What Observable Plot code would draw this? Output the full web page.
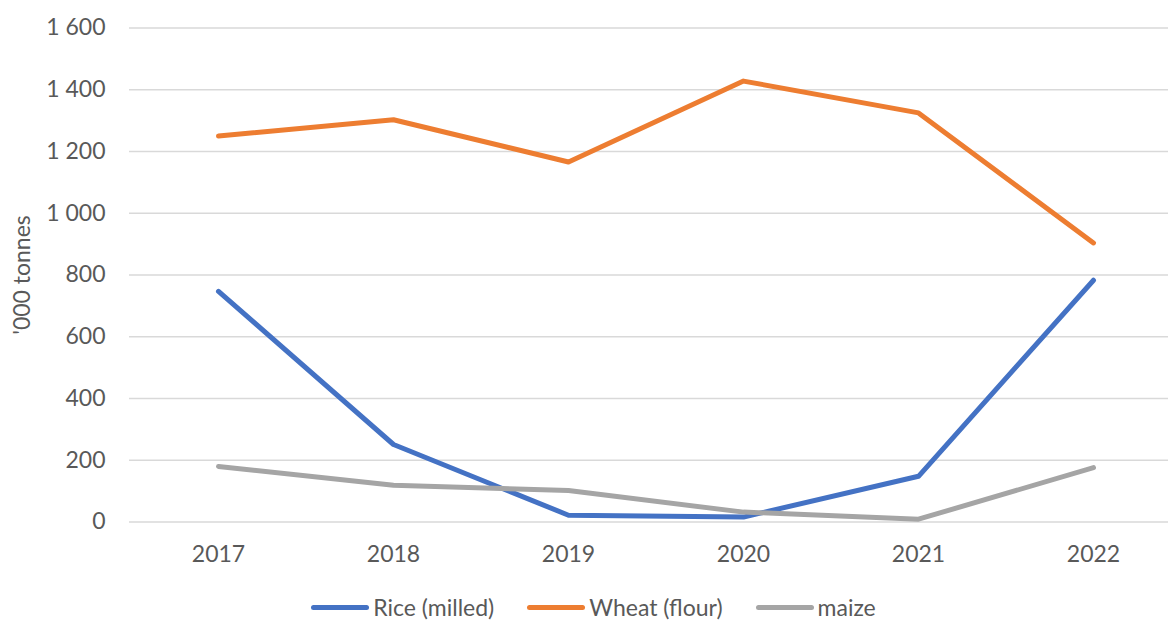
<!DOCTYPE html>
<html>
<head>
<meta charset="utf-8">
<script src="https://cdn.jsdelivr.net/npm/d3@7"></script>
<script src="https://cdn.jsdelivr.net/npm/@observablehq/plot@0.6"></script>
<style>
  html, body { margin: 0; padding: 0; background: #fff; }
  body { width: 1168px; height: 621px; overflow: hidden; font-family: Lato, "Open Sans", sans-serif; color: #595959; }
  #legend { height: 27px; display: flex; justify-content: center; align-items: center; gap: 33px; padding-left: 19px; font-size: 23px; line-height: 27px; }
  .item { display: flex; align-items: center; }
  .sw { width: 58px; height: 5px; border-radius: 3px; margin-right: 4px; }
</style>
</head>
<body>
<div id="chart"></div>
<div id="legend"></div>
<script>
const years = ["2017", "2018", "2019", "2020", "2021", "2022"];
const rice = [747, 251, 22, 16, 148, 783];
const wheat = [1250, 1303, 1166, 1428, 1325, 904];
const maize = [180, 119, 102, 32, 9, 176];
const seriesNames = ["Rice (milled)", "Wheat (flour)", "maize"];
const seriesColors = ["#4472C4", "#ED7D31", "#A5A5A5"];
const yTicks = [0, 200, 400, 600, 800, 1000, 1200, 1400, 1600];
const yLabel = "'000 tonnes";

const seriesValues = [rice, wheat, maize];
const rows = [];
seriesNames.forEach((name, s) => {
  years.forEach((yr, i) => rows.push({series: name, year: yr, value: seriesValues[s][i]}));
});

const fmt = d => d3.format(",")(d).replace(/,/g, " ");

const chart = Plot.plot({
  width: 1168,
  height: 594,
  marginLeft: 129,
  marginRight: 0,
  marginTop: 27,
  marginBottom: 72,
  style: {fontFamily: "Lato, 'Open Sans', sans-serif", fontSize: "23px", color: "#595959", background: "#fff"},
  x: {type: "point", domain: years, range: [217.5, 1094], padding: 0},
  y: {domain: [0, 1600], range: [521.5, 27.5]},
  color: {domain: seriesNames, range: seriesColors},
  marks: [
    Plot.ruleY(yTicks, {stroke: "#D9D9D9", strokeWidth: 1.5}),
    Plot.axisY({ticks: yTicks, tickFormat: fmt, tickSize: 0, tickPadding: 24, label: null, fill: "#595959"}),
    Plot.axisX({tickSize: 0, tickPadding: 23, label: null, fill: "#595959"}),
    Plot.line(rows, {x: "year", y: "value", z: "series", stroke: "series", strokeWidth: 5, strokeLinecap: "round", strokeLinejoin: "round"}),
    Plot.text([yLabel], {frameAnchor: "left", textAnchor: "middle", dx: -107, rotate: -90, text: d => d, fill: "#595959", fontSize: 23})
  ]
});
document.getElementById("chart").appendChild(chart);

const legend = document.getElementById("legend");
seriesNames.forEach((name, i) => {
  const item = document.createElement("div");
  item.className = "item";
  const sw = document.createElement("span");
  sw.className = "sw";
  sw.style.background = seriesColors[i];
  const t = document.createElement("span");
  t.textContent = name;
  item.appendChild(sw);
  item.appendChild(t);
  legend.appendChild(item);
});
</script>
</body>
</html>
